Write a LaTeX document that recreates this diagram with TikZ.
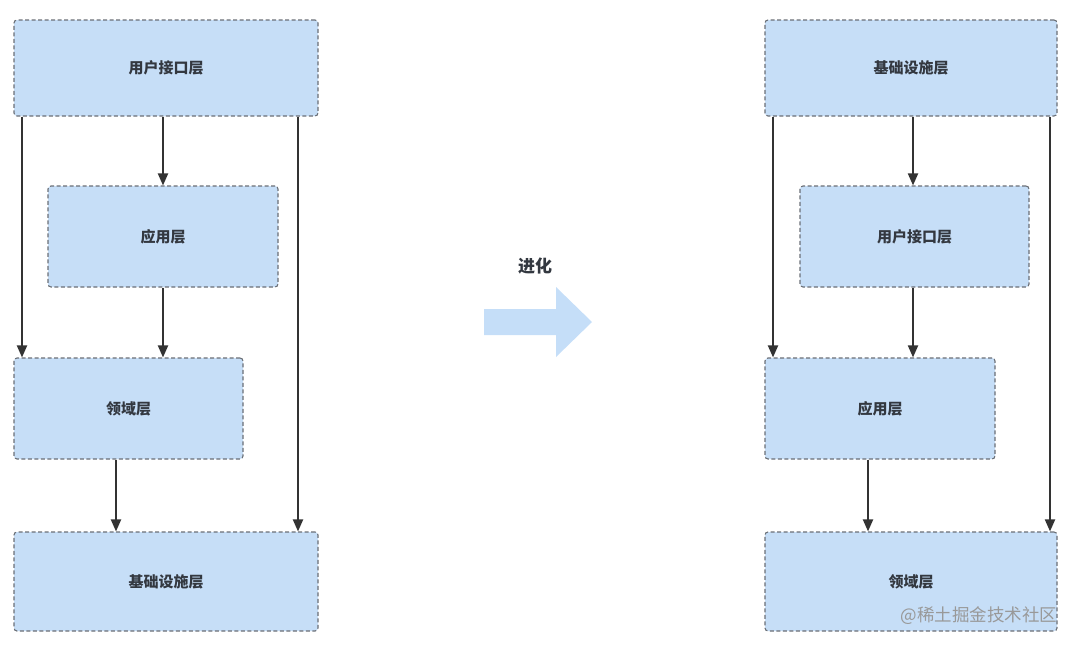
\documentclass[tikz,border=0pt]{standalone}
\usepackage{fontspec}
\newfontfamily\cjk{Noto Sans CJK SC}
\usetikzlibrary{arrows.meta}
\definecolor{boxfill}{HTML}{C6DEF7}
\definecolor{boxline}{HTML}{6A6F76}
\definecolor{txt}{HTML}{333840}
\definecolor{arrowc}{HTML}{333333}
\definecolor{bigarrow}{HTML}{C5DEF8}
\tikzset{
  layer/.style={draw=boxline, fill=boxfill, dashed, dash pattern=on 4pt off 2.5pt, line width=1.1pt, rounded corners=3pt, inner sep=0pt, font=\cjk\bfseries\fontsize{15}{17}\selectfont, text=txt},
  arr/.style={draw=arrowc, line width=1.9pt, -{Triangle[length=12pt,width=10pt]}},
}
\begin{document}
\begin{tikzpicture}[x=1pt,y=-1pt]
\useasboundingbox (0,0) rectangle (1080,646);
% left
\node[layer, minimum width=304pt, minimum height=96pt] (lu) at (166,68) {用户接口层};
\node[layer, minimum width=230pt, minimum height=101pt] (la) at (163,236.5) {应用层};
\node[layer, minimum width=229pt, minimum height=101pt] (ld) at (128.5,408.5) {领域层};
\node[layer, minimum width=304pt, minimum height=99pt] (li) at (166,581.5) {基础设施层};
% right
\node[layer, minimum width=292pt, minimum height=96pt] (ri) at (911,68) {基础设施层};
\node[layer, minimum width=229pt, minimum height=101pt] (ru) at (914.5,236.5) {用户接口层};
\node[layer, minimum width=230pt, minimum height=101pt] (ra) at (880,408.5) {应用层};
\node[layer, minimum width=292pt, minimum height=99pt] (rd) at (911,581.5) {领域层};
% left arrows
\draw[arr] (lu.south -| 22,0) -- (ld.north -| 22,0);
\draw[arr] (lu.south -| 163,0) -- (la.north -| 163,0);
\draw[arr] (la.south -| 163,0) -- (ld.north -| 163,0);
\draw[arr] (ld.south -| 116,0) -- (li.north -| 116,0);
\draw[arr] (lu.south -| 298,0) -- (li.north -| 298,0);
% right arrows
\draw[arr] (ri.south -| 773,0) -- (ra.north -| 773,0);
\draw[arr] (ri.south -| 913,0) -- (ru.north -| 913,0);
\draw[arr] (ru.south -| 913,0) -- (ra.north -| 913,0);
\draw[arr] (ra.south -| 868,0) -- (rd.north -| 868,0);
\draw[arr] (ri.south -| 1050,0) -- (rd.north -| 1050,0);
% big arrow
\fill[bigarrow] (484,309) -- (556,309) -- (556,287) -- (592,322) -- (556,357) -- (556,335) -- (484,335) -- cycle;
\node[font=\cjk\bfseries\fontsize{17}{19}\selectfont, text=txt] (evo) at (535,266) {进化};
% watermark
\node[font=\cjk\fontsize{17.5}{19}\selectfont, text=black!40, anchor=east] (wm) at (1061,616) {@稀土掘金技术社区};
\end{tikzpicture}
\end{document}
